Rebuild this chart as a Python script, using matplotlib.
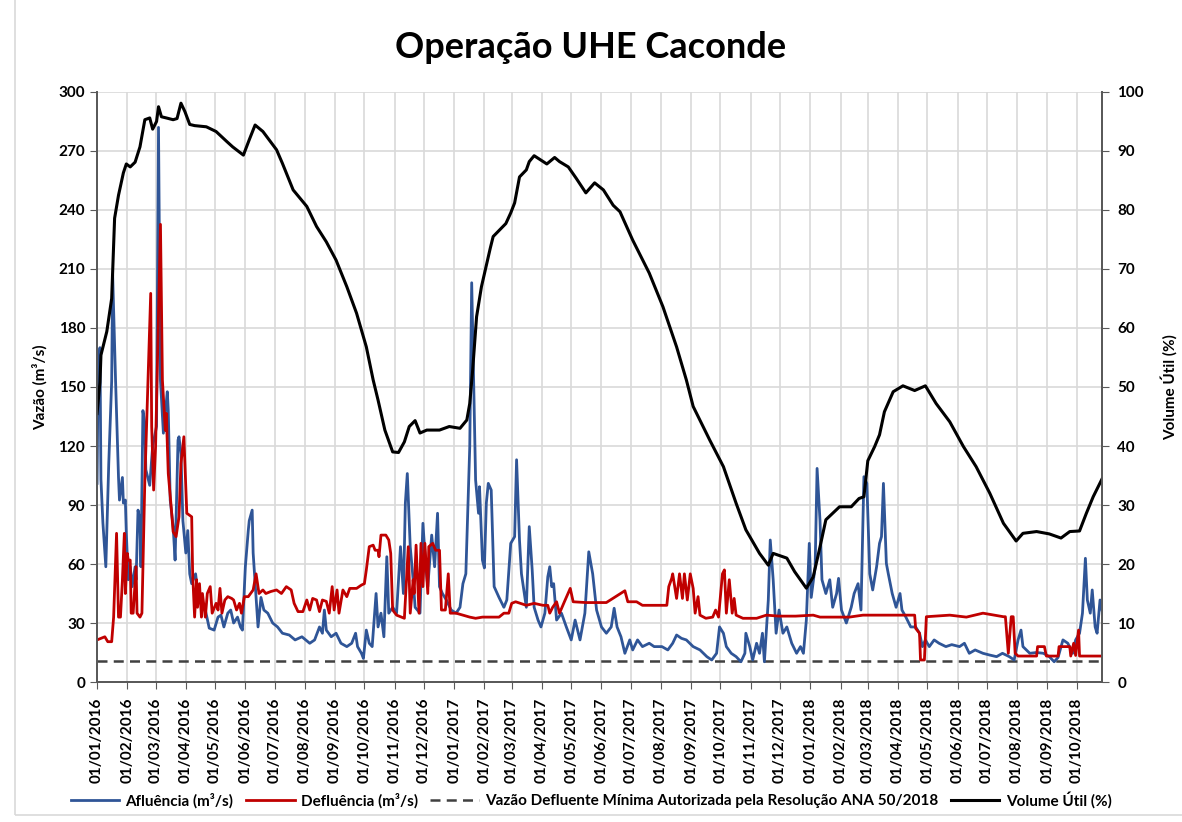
import matplotlib
matplotlib.use("Agg")
import matplotlib.pyplot as plt
import matplotlib.dates as mdates
import pandas as pd
from matplotlib.patches import Rectangle

plt.rcParams['font.family'] = ['Lato', 'DejaVu Sans']

# ---------------------------------------------------------------
# Data
# ---------------------------------------------------------------

vol_dates = [
    "2016-01-01", "2016-01-04", "2016-01-05", "2016-01-11", "2016-01-16", "2016-01-19",
    "2016-01-23", "2016-01-28", "2016-01-31", "2016-02-04", "2016-02-09", "2016-02-14",
    "2016-02-19", "2016-02-24", "2016-02-27", "2016-03-02", "2016-03-04", "2016-03-07",
    "2016-03-12", "2016-03-19", "2016-03-23", "2016-03-27", "2016-03-31", "2016-04-05",
    "2016-04-10", "2016-04-22", "2016-05-02", "2016-05-13", "2016-05-19", "2016-05-30",
    "2016-06-05", "2016-06-11", "2016-06-19", "2016-07-03", "2016-07-09", "2016-07-20",
    "2016-08-03", "2016-08-13", "2016-08-23", "2016-09-02", "2016-09-13", "2016-09-23",
    "2016-10-03", "2016-10-10", "2016-10-15", "2016-10-22", "2016-10-30", "2016-11-05",
    "2016-11-11", "2016-11-16", "2016-11-22", "2016-11-27", "2016-12-04", "2016-12-17",
    "2016-12-27", "2017-01-07", "2017-01-14", "2017-01-17", "2017-01-20", "2017-01-24",
    "2017-01-29", "2017-02-07", "2017-02-10", "2017-02-23", "2017-02-28", "2017-03-04",
    "2017-03-09", "2017-03-16", "2017-03-19", "2017-03-24", "2017-04-06", "2017-04-14",
    "2017-04-19", "2017-04-28", "2017-05-06", "2017-05-16", "2017-05-25", "2017-06-03",
    "2017-06-13", "2017-06-20", "2017-07-03", "2017-07-20", "2017-08-03", "2017-08-17",
    "2017-08-27", "2017-09-03", "2017-09-20", "2017-10-04", "2017-10-17", "2017-10-27",
    "2017-11-10", "2017-11-19", "2017-11-24", "2017-12-08", "2017-12-16", "2017-12-28",
    "2018-01-04", "2018-01-11", "2018-01-17", "2018-01-31", "2018-02-12", "2018-02-20",
    "2018-02-25", "2018-03-01", "2018-03-08", "2018-03-13", "2018-03-18", "2018-03-27",
    "2018-04-06", "2018-04-18", "2018-04-29", "2018-05-10", "2018-05-24", "2018-06-07",
    "2018-06-20", "2018-07-04", "2018-07-18", "2018-07-31", "2018-08-07", "2018-08-21",
    "2018-09-03", "2018-09-15", "2018-09-24", "2018-10-04", "2018-10-11", "2018-10-18",
    "2018-10-27",
]
vol_values = [
    45.5, 50.8, 55.4, 59.4, 65.0, 78.6,
    82.5, 86.3, 87.8, 87.3, 88.1, 90.7,
    95.3, 95.6, 93.7, 95.0, 97.5, 95.8,
    95.6, 95.3, 95.5, 98.1, 96.7, 94.5,
    94.3, 94.1, 93.3, 91.6, 90.7, 89.3,
    91.9, 94.4, 93.3, 90.2, 87.9, 83.4,
    80.6, 77.2, 74.6, 71.5, 67.0, 62.5,
    56.8, 51.2, 47.8, 42.7, 39.0, 38.9,
    40.7, 43.3, 44.3, 42.2, 42.7, 42.7,
    43.3, 43.0, 44.4, 47.2, 52.9, 61.9,
    67.0, 73.5, 75.5, 77.7, 79.5, 81.2,
    85.6, 86.8, 88.2, 89.2, 87.8, 88.9,
    88.2, 87.3, 85.4, 82.9, 84.6, 83.4,
    80.8, 79.7, 74.9, 69.3, 63.6, 56.8,
    51.2, 46.7, 41.0, 36.5, 30.3, 25.8,
    21.8, 19.8, 21.8, 21.0, 18.7, 15.9,
    17.8, 22.9, 27.5, 29.7, 29.7, 31.1,
    31.4, 37.5, 39.9, 41.9, 45.8, 49.2,
    50.2, 49.4, 50.2, 47.2, 44.1, 39.9,
    36.5, 32.0, 26.9, 23.9, 25.2, 25.5,
    25.1, 24.4, 25.5, 25.6, 28.6, 31.4,
    34.4,
]

aflu_dates = [
    "2016-01-01", "2016-01-02", "2016-01-04", "2016-01-05", "2016-01-07", "2016-01-10",
    "2016-01-13", "2016-01-16", "2016-01-17", "2016-01-20", "2016-01-23", "2016-01-24",
    "2016-01-27", "2016-01-28", "2016-01-30", "2016-01-31", "2016-02-02", "2016-02-04",
    "2016-02-06", "2016-02-09", "2016-02-10", "2016-02-12", "2016-02-14", "2016-02-15",
    "2016-02-17", "2016-02-19", "2016-02-20", "2016-02-24", "2016-02-27", "2016-03-02",
    "2016-03-04", "2016-03-06", "2016-03-09", "2016-03-13", "2016-03-14", "2016-03-16",
    "2016-03-19", "2016-03-21", "2016-03-24", "2016-03-25", "2016-03-27", "2016-03-29",
    "2016-04-01", "2016-04-03", "2016-04-05", "2016-04-07", "2016-04-11", "2016-04-14",
    "2016-04-18", "2016-04-21", "2016-04-25", "2016-04-30", "2016-05-04", "2016-05-07",
    "2016-05-10", "2016-05-14", "2016-05-17", "2016-05-20", "2016-05-24", "2016-05-27",
    "2016-05-29", "2016-06-01", "2016-06-04", "2016-06-05", "2016-06-08", "2016-06-09",
    "2016-06-14", "2016-06-17", "2016-06-20", "2016-06-24", "2016-06-29", "2016-07-04",
    "2016-07-09", "2016-07-16", "2016-07-22", "2016-07-29", "2016-08-06", "2016-08-11",
    "2016-08-16", "2016-08-19", "2016-08-21", "2016-08-23", "2016-08-28", "2016-09-02",
    "2016-09-07", "2016-09-13", "2016-09-18", "2016-09-22", "2016-09-24", "2016-09-28",
    "2016-09-30", "2016-10-03", "2016-10-06", "2016-10-09", "2016-10-13", "2016-10-15",
    "2016-10-18", "2016-10-21", "2016-10-24", "2016-10-26", "2016-10-30", "2016-11-03",
    "2016-11-07", "2016-11-10", "2016-11-12", "2016-11-14", "2016-11-17", "2016-11-20",
    "2016-11-22", "2016-11-27", "2016-11-30", "2016-12-03", "2016-12-05", "2016-12-09",
    "2016-12-12", "2016-12-15", "2016-12-17", "2016-12-20", "2016-12-24", "2016-12-29",
    "2017-01-03", "2017-01-07", "2017-01-10", "2017-01-13", "2017-01-17", "2017-01-19",
    "2017-01-23", "2017-01-26", "2017-01-27", "2017-01-30", "2017-02-01", "2017-02-03",
    "2017-02-05", "2017-02-08", "2017-02-11", "2017-02-16", "2017-02-21", "2017-02-24",
    "2017-02-28", "2017-03-04", "2017-03-06", "2017-03-09", "2017-03-11", "2017-03-14",
    "2017-03-16", "2017-03-19", "2017-03-22", "2017-03-24", "2017-03-28", "2017-03-31",
    "2017-04-04", "2017-04-07", "2017-04-09", "2017-04-11", "2017-04-13", "2017-04-16",
    "2017-04-21", "2017-04-26", "2017-05-01", "2017-05-05", "2017-05-10", "2017-05-15",
    "2017-05-19", "2017-05-23", "2017-05-27", "2017-06-01", "2017-06-06", "2017-06-11",
    "2017-06-14", "2017-06-17", "2017-06-21", "2017-06-25", "2017-06-30", "2017-07-03",
    "2017-07-08", "2017-07-13", "2017-07-20", "2017-07-25", "2017-08-02", "2017-08-08",
    "2017-08-13", "2017-08-17", "2017-08-22", "2017-08-27", "2017-09-03", "2017-09-10",
    "2017-09-17", "2017-09-22", "2017-09-27", "2017-09-30", "2017-10-04", "2017-10-07",
    "2017-10-12", "2017-10-17", "2017-10-22", "2017-10-26", "2017-10-27", "2017-10-31",
    "2017-11-03", "2017-11-07", "2017-11-10", "2017-11-13", "2017-11-15", "2017-11-19",
    "2017-11-21", "2017-11-24", "2017-11-27", "2017-11-30", "2017-12-04", "2017-12-08",
    "2017-12-13", "2017-12-18", "2017-12-22", "2017-12-25", "2017-12-28", "2017-12-31",
    "2018-01-02", "2018-01-06", "2018-01-08", "2018-01-11", "2018-01-13", "2018-01-17",
    "2018-01-21", "2018-01-24", "2018-01-28", "2018-01-30", "2018-02-02", "2018-02-07",
    "2018-02-12", "2018-02-15", "2018-02-19", "2018-02-22", "2018-02-25", "2018-02-28",
    "2018-03-03", "2018-03-06", "2018-03-10", "2018-03-13", "2018-03-15", "2018-03-17",
    "2018-03-20", "2018-03-22", "2018-03-26", "2018-03-30", "2018-04-03", "2018-04-05",
    "2018-04-09", "2018-04-14", "2018-04-19", "2018-04-23", "2018-04-26", "2018-04-29",
    "2018-05-03", "2018-05-08", "2018-05-13", "2018-05-20", "2018-05-26", "2018-06-03",
    "2018-06-08", "2018-06-13", "2018-06-19", "2018-06-27", "2018-07-04", "2018-07-11",
    "2018-07-17", "2018-07-24", "2018-07-29", "2018-08-02", "2018-08-05", "2018-08-07",
    "2018-08-14", "2018-08-21", "2018-08-28", "2018-09-03", "2018-09-08", "2018-09-12",
    "2018-09-17", "2018-09-22", "2018-09-27", "2018-09-30", "2018-10-04", "2018-10-07",
    "2018-10-10", "2018-10-12", "2018-10-15", "2018-10-17", "2018-10-20", "2018-10-22",
    "2018-10-25", "2018-10-27",
]
aflu_values = [
    101, 153, 170, 103, 81, 58.6,
    111, 153, 207, 153, 104, 92.5,
    104, 91, 92.5, 75.7, 52, 58.6,
    48.5, 58.6, 52, 87.4, 82, 58.6,
    138, 131.6, 108, 100, 120, 130,
    282, 153.5, 126.5, 147.6, 138, 92.5,
    79, 62, 123, 124.7, 116, 82,
    65.6, 77, 55, 50, 55, 43,
    38, 36.6, 27.4, 26.4, 33, 34,
    28, 35, 36.6, 30, 33, 28,
    26.4, 58.6, 77, 82, 87.4, 65.6,
    28, 43, 36.6, 35, 30, 28,
    24.8, 23.9, 21.4, 23, 19.7, 21.4,
    28, 24.8, 36.6, 26.4, 23, 24.8,
    19.7, 18, 19.7, 24.8, 18, 14.6,
    12, 26.4, 19.7, 18, 45, 28,
    35, 23, 63.7, 35, 38, 35,
    68.8, 45, 91, 106, 68.8, 52,
    38, 35, 80.7, 58.6, 48.5, 74.7,
    58.6, 85.8, 48.5, 45, 41.7, 36.6,
    35, 38, 50, 55, 119.6, 203,
    102.7, 85.8, 99.3, 62, 58, 91,
    101, 97.6, 48.5, 43, 38, 41.7,
    70.5, 73.9, 113, 72, 55, 45,
    38, 79, 57, 38, 31.5, 28,
    35, 53.5, 58.6, 48.5, 50, 31.5,
    35, 28, 21.4, 31.5, 21.4, 35,
    66.2, 55, 36.6, 28, 24.8, 28,
    37.5, 28, 23, 14.6, 21.4, 16.3,
    21.4, 18, 19.7, 18, 18, 16.3,
    19.7, 23.9, 22.2, 21.4, 18, 16.3,
    12.9, 11.2, 14.6, 28, 24.8, 18,
    14.6, 12.9, 10.3, 14.6, 24.8, 18,
    11.2, 19.7, 14.6, 24.8, 10.3, 41.7,
    72.2, 52, 24.8, 36.6, 24.8, 28,
    19.7, 14.6, 18, 14.6, 31.5, 70.5,
    43, 58.6, 108.6, 82, 52, 45,
    52, 38, 45, 52.7, 36.6, 30,
    38, 45, 50, 36.6, 104.4, 101,
    55, 46.8, 58.6, 70.5, 73.9, 101,
    60.3, 55, 45, 38, 45, 36.6,
    33, 28, 28, 24.8, 18, 21.4,
    18, 21.4, 19.7, 18, 19, 18,
    19.7, 14.6, 16.3, 14.6, 13.7, 12.9,
    14.6, 12.9, 11.2, 21.4, 26.4, 18,
    14.6, 15, 14.6, 12.9, 10.3, 12.5,
    21.4, 19.7, 14.6, 21.4, 24.8, 35,
    62.9, 41.7, 35, 46.8, 28, 24.8,
    41.7, 36.6,
]

deflu_dates = [
    "2016-01-01", "2016-01-09", "2016-01-12", "2016-01-16", "2016-01-18", "2016-01-21",
    "2016-01-23", "2016-01-25", "2016-01-27", "2016-01-29", "2016-01-30", "2016-02-01",
    "2016-02-02", "2016-02-04", "2016-02-05", "2016-02-07", "2016-02-10", "2016-02-11",
    "2016-02-14", "2016-02-16", "2016-02-19", "2016-02-20", "2016-02-25", "2016-02-26",
    "2016-02-28", "2016-03-01", "2016-03-06", "2016-03-08", "2016-03-11", "2016-03-12",
    "2016-03-14", "2016-03-17", "2016-03-19", "2016-03-22", "2016-03-25", "2016-03-27",
    "2016-03-30", "2016-04-02", "2016-04-07", "2016-04-08", "2016-04-10", "2016-04-12",
    "2016-04-13", "2016-04-15", "2016-04-17", "2016-04-18", "2016-04-21", "2016-04-23",
    "2016-04-26", "2016-04-28", "2016-05-02", "2016-05-04", "2016-05-06", "2016-05-08",
    "2016-05-11", "2016-05-14", "2016-05-18", "2016-05-20", "2016-05-23", "2016-05-26",
    "2016-05-28", "2016-05-31", "2016-06-04", "2016-06-09", "2016-06-12", "2016-06-15",
    "2016-06-19", "2016-06-22", "2016-06-27", "2016-07-03", "2016-07-08", "2016-07-13",
    "2016-07-18", "2016-07-21", "2016-07-25", "2016-07-30", "2016-08-03", "2016-08-06",
    "2016-08-09", "2016-08-13", "2016-08-16", "2016-08-19", "2016-08-23", "2016-08-26",
    "2016-08-29", "2016-08-31", "2016-09-03", "2016-09-05", "2016-09-09", "2016-09-13",
    "2016-09-16", "2016-09-23", "2016-09-28", "2016-10-01", "2016-10-03", "2016-10-06",
    "2016-10-10", "2016-10-12", "2016-10-15", "2016-10-16", "2016-10-18", "2016-10-23",
    "2016-10-26", "2016-10-28", "2016-10-30", "2016-11-03", "2016-11-08", "2016-11-11",
    "2016-11-15", "2016-11-17", "2016-11-20", "2016-11-21", "2016-11-23", "2016-11-26",
    "2016-11-28", "2016-11-30", "2016-12-02", "2016-12-05", "2016-12-06", "2016-12-10",
    "2016-12-13", "2016-12-17", "2016-12-19", "2016-12-23", "2016-12-26", "2016-12-28",
    "2017-01-03", "2017-01-10", "2017-01-17", "2017-01-23", "2017-01-30", "2017-02-10",
    "2017-02-16", "2017-02-21", "2017-02-26", "2017-03-01", "2017-03-05", "2017-03-16",
    "2017-03-24", "2017-04-02", "2017-04-07", "2017-04-09", "2017-04-12", "2017-04-16",
    "2017-04-19", "2017-04-24", "2017-04-30", "2017-05-03", "2017-05-16", "2017-06-06",
    "2017-06-25", "2017-06-28", "2017-07-07", "2017-07-13", "2017-08-07", "2017-08-09",
    "2017-08-12", "2017-08-13", "2017-08-17", "2017-08-20", "2017-08-23", "2017-08-25",
    "2017-08-28", "2017-08-31", "2017-09-03", "2017-09-05", "2017-09-08", "2017-09-10",
    "2017-09-16", "2017-09-23", "2017-09-26", "2017-09-29", "2017-10-03", "2017-10-05",
    "2017-10-07", "2017-10-10", "2017-10-13", "2017-10-15", "2017-10-17", "2017-10-24",
    "2017-11-07", "2017-11-17", "2017-11-30", "2017-12-17", "2018-01-04", "2018-01-11",
    "2018-02-10", "2018-02-24", "2018-03-17", "2018-04-18", "2018-04-19", "2018-04-23",
    "2018-04-24", "2018-04-28", "2018-04-30", "2018-05-24", "2018-06-10", "2018-06-27",
    "2018-07-18", "2018-07-20", "2018-07-23", "2018-07-26", "2018-07-28", "2018-07-30",
    "2018-08-02", "2018-08-21", "2018-08-22", "2018-08-29", "2018-08-31", "2018-09-12",
    "2018-09-13", "2018-09-24", "2018-09-25", "2018-09-28", "2018-09-30", "2018-10-03",
    "2018-10-04", "2018-10-27",
]
deflu_values = [
    21.4, 23, 20.5, 20.5, 33, 75.6,
    33, 33, 52, 75.6, 45, 65.4,
    62, 62, 35, 35, 58.6, 35,
    33, 35, 102.7, 118, 197.6, 130,
    97.6, 119.6, 232.7, 153.5, 128, 136.6,
    106, 89, 76.4, 73.9, 84, 111,
    124.7, 85.8, 84, 55, 33, 52,
    38, 50, 33, 45, 33, 45,
    48.5, 35, 40, 36.6, 47.6, 35,
    41.7, 43.4, 42.5, 41.7, 36.6, 40,
    35, 43.4, 43.4, 46.8, 55, 45,
    46.8, 45, 46, 46.8, 45, 48.5,
    46.8, 40, 35.8, 35.8, 41.7, 36.6,
    42.5, 41.7, 35.8, 41.7, 41, 35,
    48.5, 36.6, 46.8, 35, 46.8, 43.4,
    47.6, 47.6, 49.3, 50, 57, 68.8,
    69.6, 67, 67, 63.7, 74.7, 74.7,
    72.2, 65.4, 36.6, 34, 33, 32.4,
    68.8, 35, 52, 45, 69.6, 35,
    70.5, 48.5, 70.5, 45, 68.8, 70.5,
    67, 67, 36.6, 36.6, 55, 35,
    35, 34, 33, 32.4, 33, 33,
    33, 35, 35, 40, 40.8, 39,
    40, 39, 39, 35, 38, 40.8,
    35, 40.8, 47.6, 40.8, 40.4, 40.4,
    46.4, 40.8, 40.8, 39, 39, 48.5,
    52.7, 55, 42.5, 55, 42.5, 55,
    41.7, 55, 47.6, 35, 43.4, 34,
    32.4, 33, 36.6, 33, 55, 57,
    35, 52, 35, 42.5, 34, 32.4,
    32.4, 34, 33.5, 33.5, 34, 33,
    33, 34, 34, 34, 27.3, 24.8,
    11.2, 11.2, 33.2, 34, 33, 35,
    33.2, 33.2, 14.6, 33.2, 33.2, 14.6,
    13.2, 13.2, 18, 18, 13.2, 13.2,
    18, 18, 13.2, 19.7, 13.5, 26.4,
    13.2, 13.2,
]

vazao_minima = 10.5

start, end = "2016-01-01", "2018-10-27"
month_ticks = pd.date_range("2016-01-01", "2018-10-01", freq="MS")

# ---------------------------------------------------------------
# Plot
# ---------------------------------------------------------------

fig = plt.figure(figsize=(11.82, 8.22), dpi=100)
ax = fig.add_axes([0.0821, 0.1703, 0.8502, 0.7178])
ax2 = ax.twinx()

blue, red = '#2F5597', '#C00000'
axis_grey = '#595959'

ax.plot(pd.to_datetime(aflu_dates), aflu_values, color=blue, lw=2.0,
        label='Afluência (m³/s)', zorder=3)
ax.plot(pd.to_datetime(deflu_dates), deflu_values, color=red, lw=2.0,
        label='Defluência (m³/s)', zorder=4)
ax.plot(pd.to_datetime([start, end]), [vazao_minima, vazao_minima], color='#404040',
        lw=1.8, ls=(0, (4, 2.5)),
        label='Vazão Defluente Mínima Autorizada pela Resolução ANA 50/2018', zorder=2)
ax2.plot(pd.to_datetime(vol_dates), vol_values, color='black', lw=2.2,
         label='Volume Útil (%)')

ax.set_xlim(pd.Timestamp(start), pd.Timestamp(end))
ax.set_ylim(0, 300)
ax2.set_ylim(0, 100)
ax.set_yticks(range(0, 301, 30))
ax2.set_yticks(range(0, 101, 10))
ax.set_xticks(month_ticks)
ax.xaxis.set_major_formatter(mdates.DateFormatter('%d/%m/%Y'))

ax.grid(True, color='#D9D9D9', lw=1.2, zorder=0)
ax.set_axisbelow(True)

for a in (ax, ax2):
    a.spines['top'].set_visible(False)
    for s in ('left', 'right', 'bottom'):
        a.spines[s].set_color(axis_grey)
        a.spines[s].set_linewidth(1.3)
ax.tick_params(axis='x', direction='out', length=5, color=axis_grey, rotation=90,
               labelsize=11, pad=6)
ax.tick_params(axis='y', direction='out', length=5, color=axis_grey, labelsize=11)
ax2.tick_params(axis='y', direction='out', length=5, color=axis_grey, labelsize=11, pad=6)
for lab in ax.get_xticklabels() + ax.get_yticklabels() + ax2.get_yticklabels():
    lab.set_fontweight('bold')

ax.set_ylabel('Vazão (m³/s)', fontsize=11, fontweight='bold', labelpad=8)
ax2.set_ylabel('Volume Útil (%)', fontsize=11, fontweight='bold', labelpad=12)

fig.text(0.5, 1 - 47 / 822, 'Operação UHE Caconde', fontsize=26, fontweight='bold',
         ha='center', va='center')

handles = ax.get_lines()[:3] + ax2.get_lines()
fig.legend(handles, [h.get_label() for h in handles], loc='lower center',
           bbox_to_anchor=(0.5, 0.0), ncol=4, frameon=False, handlelength=3.2,
           columnspacing=0.8, handletextpad=0.4,
           prop={'size': 11, 'weight': 'bold'})

# light chart-area border as in the spreadsheet export
fig.add_artist(Rectangle((15 / 1182, 1 - 815 / 822), 1.2, 1.2, transform=fig.transFigure,
                         fill=False, edgecolor='#D9D9D9', lw=1.2))

fig.savefig('out.png', dpi=100)
